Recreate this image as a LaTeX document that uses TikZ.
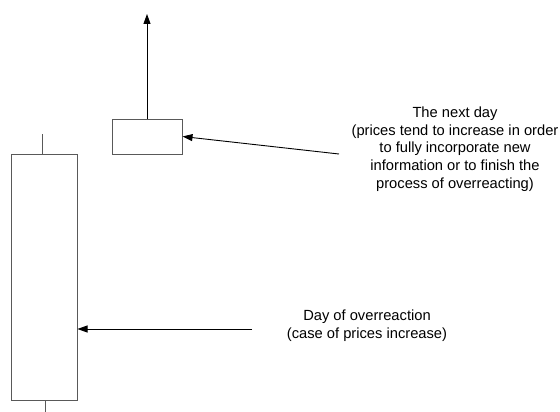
\documentclass[tikz,border=0pt]{standalone}
\usepackage{fontspec}
\setmainfont{Liberation Sans}
\usetikzlibrary{arrows.meta,positioning}
\tikzstyle{body} = [rectangle, draw=black!65, line width=1pt, inner sep=0pt]
\tikzstyle{note} = [align=center, font=\fontsize{14.7}{17.8}\selectfont]
\tikzstyle{wick} = [draw=black!65, line width=1pt]

\begin{document}
\begin{tikzpicture}[x=1pt,y=-1pt,>={Triangle[length=10pt,width=7pt]},
                    line width=0.9pt]
  \useasboundingbox (0,0) rectangle (560,412);

  \node[body, minimum width=66pt, minimum height=246pt] (1) at (44,277) {};
  \node[body, minimum width=70pt, minimum height=35pt]  (2) at (147,136.5) {};

  \node[note] (3) at (455,149) {The next day\\(prices tend to increase in order\\to fully incorporate new\\information or to finish the\\process of overreacting)};
  \node[note] (4) at (367,326) {Day of overreaction\\(case of prices increase)};

  \coordinate (top) at (147,14);
  \coordinate (a3) at (339,154);
  \coordinate (a4) at (252,329);

  % wicks
  \draw[wick] (42,134) -- (42,154);
  \draw[wick] (45.5,400) -- (45.5,412);

  \draw[->] (2.north) -- (top);
  \draw[->] (a3) -- (2.east);
  \draw[->] (a4) -- (a4 -| 1.east);
\end{tikzpicture}
\end{document}
